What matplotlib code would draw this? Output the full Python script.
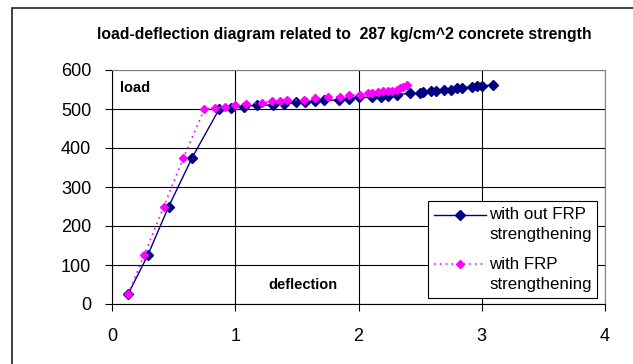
import numpy as np
import matplotlib.pyplot as plt
from matplotlib.patches import Rectangle
from matplotlib.legend_handler import HandlerLine2D
from matplotlib.transforms import Affine2D

plt.rcParams['font.family'] = ['Liberation Sans', 'DejaVu Sans']

# without FRP strengthening
defl_plain = [0.13, 0.29, 0.46, 0.65, 0.87, 0.965, 1.07, 1.18, 1.31, 1.395, 1.49, 1.565,
              1.65, 1.72, 1.84, 1.92, 2.0, 2.11, 2.18, 2.24, 2.31, 2.42, 2.50, 2.52,
              2.59, 2.63, 2.69, 2.75, 2.80, 2.84, 2.92, 2.96, 3.0, 3.09]
load_plain = [25, 125, 250, 375, 500, 503, 506, 510, 510, 513, 517, 518,
              520, 522, 523, 526, 530, 530, 532, 533, 537, 540, 540, 543,
              546, 547, 549, 550, 554, 555, 557, 558, 560, 561]

# with FRP strengthening
defl_frp = [0.13, 0.26, 0.42, 0.58, 0.75, 0.835, 0.917, 1.0, 1.09, 1.22, 1.295, 1.36,
            1.42, 1.557, 1.646, 1.754, 1.849, 1.925, 2.01, 2.08, 2.106, 2.16, 2.195,
            2.236, 2.27, 2.31, 2.336, 2.36, 2.39]
load_frp = [25, 125, 250, 375, 500, 503, 506, 509, 512, 516, 520, 521,
            524, 523, 527, 531, 531, 535, 537, 540, 541, 543, 545,
            546, 547, 550, 554, 557, 561]


class FirstLineHandler(HandlerLine2D):
    # put the legend key next to the first line of a two-line label
    def create_artists(self, legend, orig_handle, xdescent, ydescent, width, height, fontsize, trans):
        trans = Affine2D().translate(0, fontsize * 0.6) + trans
        return super().create_artists(legend, orig_handle, xdescent, ydescent, width, height,
                                      fontsize, trans)


W, H = 633, 364
fig = plt.figure(figsize=(W / 100, H / 100), dpi=100)

# chart area border (Excel style)
fig.patches.append(Rectangle((12 / W, -0.1), 1.0, 1 - 7.5 / H + 0.1, transform=fig.transFigure,
                             fill=False, edgecolor='#202020', linewidth=1.2))

ax = fig.add_axes([112 / W, (H - 304) / H, (605 - 112) / W, (304 - 70) / H])

l1, = ax.plot(defl_plain, load_plain, color='#000080', linewidth=1, marker='D', markersize=5,
              label='with out FRP\nstrengthening', zorder=3)
l2, = ax.plot(defl_frp, load_frp, color='#FF00FF', linewidth=1.2, linestyle=(0, (1, 2.5)), marker='D',
              markersize=4.3, label='with FRP\nstrengthening', zorder=4)

ax.set_xlim(0, 4)
ax.set_ylim(0, 600)
ax.set_xticks([0, 1, 2, 3, 4])
ax.set_yticks(range(0, 601, 100))
ax.grid(True, color='black', linewidth=0.8)
ax.set_axisbelow(True)
ax.tick_params(labelsize=13, length=5, width=0.8)
ax.tick_params(axis='x', pad=12.5)
ax.tick_params(axis='y', pad=10)
for s in ['top', 'right']:
    ax.spines[s].set_color('#808080')
for s in ['left', 'bottom']:
    ax.spines[s].set_color('black')

ax.text(0.016, 0.923, 'load', transform=ax.transAxes, fontsize=10.5, fontweight='bold',
        va='center', ha='left')
ax.text(0.318, 0.081, 'deflection', transform=ax.transAxes, fontsize=10.5, fontweight='bold',
        va='center', ha='left')

fig.text(344 / W, 1 - 35 / H, 'load-deflection diagram related to  287 kg/cm^2 concrete strength',
         fontsize=11.3, fontweight='bold', ha='center', va='center')

leg = ax.legend(loc='upper left', bbox_to_anchor=(428 / W, 1 - 201 / H),
                bbox_transform=fig.transFigure, borderaxespad=0, fontsize=12.2,
                fancybox=False, frameon=True, edgecolor='black', framealpha=1,
                handlelength=3.05, handletextpad=0.2, labelspacing=0.85, borderpad=0.35,
                handler_map={l1: FirstLineHandler(), l2: FirstLineHandler()})
leg.get_frame().set_linewidth(0.8)
for t in leg.get_texts():
    t.set_linespacing(1.45)

fig.savefig('out.png', dpi=100)
